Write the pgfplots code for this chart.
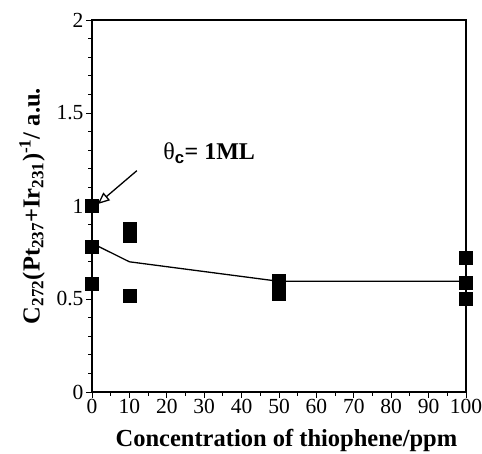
\documentclass[border=0pt]{standalone}
\usepackage{fontspec}
\setmainfont{Liberation Serif}
\setsansfont{Liberation Sans}
\usepackage{pgfplots}
\pgfplotsset{compat=1.18}
\usetikzlibrary{arrows.meta}
\begin{document}
\begin{tikzpicture}
\begin{axis}[
  name=main,
  scale only axis, width=374pt, height=372pt,
  xmin=0, xmax=100, ymin=0, ymax=2,
  xtick={0,10,...,100}, minor x tick num=1,
  ytick={0,0.5,1,1.5,2}, minor y tick num=4,
  yticklabels={0,0.5,1,1.5,2},
  tick pos=left, tick align=outside,
  major tick length=6pt, minor tick length=4pt,
  axis line style={line width=1.3pt},
  every tick/.style={black, line width=0.9pt},
  /pgf/number format/assume math mode=true,
  ticklabel style={font=\fontsize{21.5}{21.5}\selectfont},
  xticklabel style={yshift=2pt},
  yticklabel style={xshift=1pt},
  xlabel={\textbf{Concentration of thiophene/ppm}},
  ylabel={\textbf{C\textsubscript{272}(Pt\textsubscript{237}+Ir\textsubscript{231})\textsuperscript{-1}/ a.u.}},
  label style={font=\fontsize{24.5}{24.5}\selectfont},
  xlabel style={at={(axis description cs:0.52,-0.129)}, anchor=center},
  ylabel style={at={(axis description cs:-0.16,0.5)}, anchor=center, rotate=0},
  clip=false,
]
\addplot[only marks, mark=square*, mark size=6.5pt, black] coordinates {
  (0,1.0) (0,0.78) (0,0.58)
  (10,0.88) (10,0.84) (10,0.52)
  (50,0.60) (50,0.56) (50,0.53)
  (100,0.72) (100,0.59) (100,0.50)
};
\addplot[black, line width=1.3pt] coordinates {
  (0,0.80) (10,0.70) (50,0.595) (100,0.595)
};
\draw[line width=1.3pt, -{Triangle[open, length=12pt, width=10pt, line width=1.3pt]}] (axis cs:12,1.19) -- (axis cs:1.5,1.01);
\node[anchor=west, font=\fontsize{24}{24}\selectfont, inner sep=0pt] at (axis cs:19,1.285) {θ\textsubscript{\textsf{\textbf{c}}}\textbf{= 1ML}};
\end{axis}
\pgfresetboundingbox
\path (main.south west)++(-92pt,-62pt) rectangle ([shift={(16pt,20pt)}]main.north east);
\end{tikzpicture}
\end{document}
